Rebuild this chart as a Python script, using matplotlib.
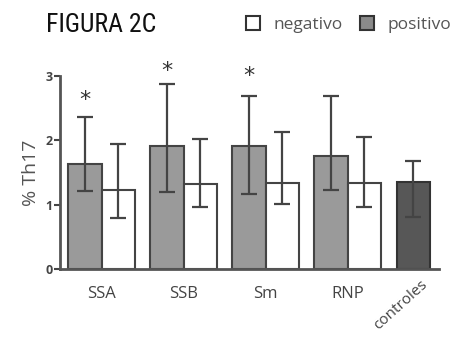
import numpy as np
import matplotlib.pyplot as plt
from matplotlib.patches import Patch
from matplotlib import font_manager

groups = ['SSA', 'SSB', 'Sm', 'RNP']
pos_mean = [1.64, 1.91, 1.91, 1.75]
pos_lo = [1.22, 1.19, 1.16, 1.23]
pos_hi = [2.36, 2.87, 2.69, 2.69]
neg_mean = [1.23, 1.32, 1.33, 1.33]
neg_lo = [0.80, 0.96, 1.01, 0.96]
neg_hi = [1.94, 2.02, 2.13, 2.06]
ctrl_mean = 1.36
ctrl_lo = 0.81
ctrl_hi = 1.68
star_y = [2.62, 3.08, 3.0]  # asterisks over SSA, SSB, Sm

fam = ['Open Sans', 'DejaVu Sans']
plt.rcParams['font.family'] = fam
dark = '#444444'

# condensed face for the title, if there is one
names = {f.name for f in font_manager.fontManager.ttflist}
title_fam = 'DejaVu Sans'
for cand in ['Liberation Sans Narrow', 'DejaVu Sans Condensed', 'Roboto Condensed']:
    if cand in names:
        title_fam = cand
        break

fig = plt.figure(figsize=(4.6, 3.38), dpi=100)
ax = fig.add_axes([0.130, 0.204, 0.824, 0.571])

x = np.arange(len(groups))
w = 0.406
pm = np.array(pos_mean)
nm = np.array(neg_mean)
ek = dict(ecolor=dark, elinewidth=1.6, capsize=6, capthick=1.6)
ax.bar(x - w / 2, pm, w, color='#9a9a9a', edgecolor=dark, linewidth=1.5,
       yerr=[pm - np.array(pos_lo), np.array(pos_hi) - pm], error_kw=ek, zorder=2)
ax.bar(x + w / 2, nm, w, color='white', edgecolor=dark, linewidth=1.5,
       yerr=[nm - np.array(neg_lo), np.array(neg_hi) - nm], error_kw=ek, zorder=2)
ax.bar([3.8], [ctrl_mean], w, color='#575757', edgecolor='#333333', linewidth=1.5,
       yerr=[[ctrl_mean - ctrl_lo], [ctrl_hi - ctrl_mean]], error_kw=ek, zorder=2)

for i, sy in enumerate(star_y):
    ax.text(x[i] - w / 2, sy, '*', ha='center', va='center', fontsize=16,
            color='#333333', family='DejaVu Sans', clip_on=False)

ax.set_xlim(-0.51, 4.11)
ax.set_ylim(0, 3)
ax.set_yticks([0, 1, 2, 3])
ax.set_xticks(x)
ax.set_xticklabels(groups, fontsize=12, color=dark)
ax.tick_params(axis='x', length=0, pad=12)
ax.tick_params(axis='y', length=4, width=1.5, color=dark, labelsize=9,
               labelcolor=dark, pad=1)
for lab in ax.get_yticklabels():
    lab.set_fontweight('bold')
ax.text(3.88, -0.13, 'controles', rotation=42, ha='right', va='top',
        rotation_mode='anchor', fontsize=11, color=dark)

for s in ['top', 'right']:
    ax.spines[s].set_visible(False)
for s in ['left', 'bottom']:
    ax.spines[s].set_color('#555555')
    ax.spines[s].set_linewidth(2)

ax.set_ylabel('% Th17', fontsize=14, color='#555555', labelpad=4)

fig.text(0.10, 0.925, 'FIGURA 2C', fontsize=18.5, color='#111111',
         family=title_fam, stretch='condensed', va='center')
handles = [Patch(facecolor='white', edgecolor='#333333', linewidth=1.5, label='negativo'),
           Patch(facecolor='#8a8a8a', edgecolor='#333333', linewidth=1.5, label='positivo')]
fig.legend(handles=handles, loc='center left', bbox_to_anchor=(0.500, 0.927), ncol=2,
           frameon=False, handlelength=0.8, handleheight=0.8, handletextpad=0.8,
           columnspacing=1.0, labelcolor='#555555', fontsize=12.5)

fig.savefig('out.png', dpi=100)
